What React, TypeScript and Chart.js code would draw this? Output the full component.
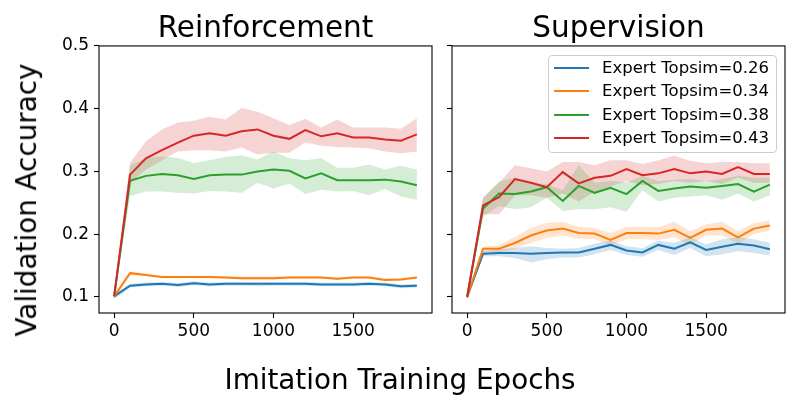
import { useEffect, useRef } from 'react'
import { Chart, registerables } from 'chart.js'

Chart.register(...registerables)

const epochs = [0, 100, 200, 300, 400, 500, 600, 700, 800, 900, 1000, 1100, 1200, 1300, 1400, 1500, 1600, 1700, 1800, 1900]
const seriesLabels = ['Expert Topsim=0.26', 'Expert Topsim=0.34', 'Expert Topsim=0.38', 'Expert Topsim=0.43']
const seriesColors = ['#1f77b4', '#ff7f0e', '#2ca02c', '#d62728']
const bandColors = ['rgba(31,119,180,0.2)', 'rgba(255,127,14,0.2)', 'rgba(44,160,44,0.2)', 'rgba(214,39,40,0.2)']
const yTicks = [0.1, 0.2, 0.3, 0.4, 0.5]
const xTicks = [0, 500, 1000, 1500]

// Reinforcement panel
const rlBlue = [0.101, 0.118, 0.120, 0.121, 0.119, 0.122, 0.120, 0.121, 0.121, 0.121, 0.121, 0.121, 0.121, 0.120, 0.120, 0.120, 0.121, 0.120, 0.117, 0.118]
const rlBlueLo = [0.096, 0.115, 0.117, 0.118, 0.116, 0.119, 0.117, 0.118, 0.118, 0.117, 0.118, 0.118, 0.118, 0.117, 0.117, 0.117, 0.118, 0.117, 0.114, 0.115]
const rlBlueHi = [0.105, 0.121, 0.123, 0.124, 0.122, 0.125, 0.123, 0.124, 0.124, 0.124, 0.124, 0.124, 0.124, 0.123, 0.123, 0.123, 0.124, 0.123, 0.120, 0.121]
const rlOrange = [0.101, 0.138, 0.135, 0.132, 0.132, 0.132, 0.132, 0.131, 0.130, 0.130, 0.130, 0.131, 0.131, 0.131, 0.129, 0.131, 0.131, 0.127, 0.128, 0.131]
const rlOrangeLo = [0.097, 0.135, 0.133, 0.130, 0.130, 0.130, 0.130, 0.129, 0.128, 0.128, 0.128, 0.129, 0.129, 0.129, 0.127, 0.129, 0.129, 0.125, 0.126, 0.129]
const rlOrangeHi = [0.104, 0.141, 0.137, 0.134, 0.134, 0.134, 0.134, 0.133, 0.133, 0.133, 0.133, 0.133, 0.133, 0.133, 0.131, 0.133, 0.133, 0.130, 0.130, 0.133]
const rlGreen = [0.101, 0.285, 0.293, 0.296, 0.294, 0.288, 0.294, 0.295, 0.295, 0.300, 0.303, 0.301, 0.289, 0.297, 0.286, 0.286, 0.286, 0.287, 0.284, 0.278]
const rlGreenLo = [0.097, 0.261, 0.268, 0.268, 0.266, 0.265, 0.269, 0.268, 0.266, 0.282, 0.273, 0.281, 0.264, 0.271, 0.268, 0.269, 0.262, 0.272, 0.260, 0.255]
const rlGreenHi = [0.104, 0.310, 0.322, 0.324, 0.322, 0.313, 0.318, 0.323, 0.326, 0.319, 0.332, 0.321, 0.318, 0.321, 0.306, 0.306, 0.311, 0.303, 0.309, 0.303]
const rlRed = [0.101, 0.295, 0.321, 0.334, 0.346, 0.357, 0.361, 0.357, 0.364, 0.367, 0.357, 0.352, 0.366, 0.356, 0.361, 0.354, 0.354, 0.351, 0.349, 0.359]
const rlRedLo = [0.097, 0.282, 0.303, 0.318, 0.332, 0.334, 0.334, 0.332, 0.338, 0.327, 0.330, 0.330, 0.346, 0.341, 0.339, 0.338, 0.337, 0.332, 0.329, 0.332]
const rlRedHi = [0.104, 0.314, 0.348, 0.367, 0.378, 0.381, 0.387, 0.383, 0.401, 0.395, 0.385, 0.374, 0.384, 0.370, 0.383, 0.370, 0.370, 0.370, 0.368, 0.385]

// Supervision panel
const svBlue = [0.100, 0.169, 0.170, 0.170, 0.169, 0.170, 0.171, 0.171, 0.177, 0.183, 0.174, 0.171, 0.183, 0.177, 0.187, 0.175, 0.180, 0.185, 0.182, 0.176]
const svBlueLo = [0.096, 0.165, 0.165, 0.162, 0.155, 0.160, 0.163, 0.163, 0.168, 0.175, 0.167, 0.164, 0.175, 0.167, 0.178, 0.165, 0.168, 0.173, 0.170, 0.166]
const svBlueHi = [0.104, 0.173, 0.176, 0.178, 0.181, 0.178, 0.177, 0.178, 0.185, 0.190, 0.181, 0.178, 0.190, 0.186, 0.195, 0.184, 0.192, 0.195, 0.192, 0.186]
const svOrange = [0.100, 0.177, 0.177, 0.186, 0.198, 0.206, 0.209, 0.202, 0.201, 0.191, 0.202, 0.202, 0.201, 0.207, 0.194, 0.207, 0.209, 0.195, 0.209, 0.214]
const svOrangeLo = [0.096, 0.172, 0.171, 0.177, 0.186, 0.194, 0.198, 0.193, 0.192, 0.182, 0.192, 0.192, 0.191, 0.195, 0.183, 0.198, 0.198, 0.185, 0.200, 0.206]
const svOrangeHi = [0.104, 0.180, 0.183, 0.196, 0.210, 0.218, 0.220, 0.212, 0.210, 0.202, 0.212, 0.212, 0.211, 0.220, 0.205, 0.216, 0.220, 0.205, 0.218, 0.222]
const svGreen = [0.100, 0.241, 0.265, 0.264, 0.268, 0.275, 0.253, 0.277, 0.266, 0.274, 0.264, 0.285, 0.269, 0.273, 0.276, 0.274, 0.277, 0.280, 0.268, 0.279]
const svGreenLo = [0.096, 0.228, 0.245, 0.240, 0.243, 0.258, 0.237, 0.240, 0.240, 0.243, 0.236, 0.270, 0.252, 0.258, 0.260, 0.262, 0.255, 0.265, 0.252, 0.262]
const svGreenHi = [0.104, 0.258, 0.284, 0.290, 0.282, 0.280, 0.270, 0.310, 0.282, 0.285, 0.283, 0.293, 0.285, 0.287, 0.288, 0.285, 0.288, 0.293, 0.290, 0.290]
const svRed = [0.100, 0.246, 0.259, 0.288, 0.282, 0.275, 0.299, 0.281, 0.290, 0.293, 0.304, 0.294, 0.297, 0.304, 0.297, 0.300, 0.296, 0.307, 0.296, 0.296]
const svRedLo = [0.096, 0.232, 0.232, 0.262, 0.262, 0.258, 0.265, 0.252, 0.268, 0.276, 0.285, 0.278, 0.280, 0.285, 0.282, 0.285, 0.280, 0.290, 0.282, 0.282]
const svRedHi = [0.104, 0.258, 0.282, 0.310, 0.305, 0.300, 0.315, 0.315, 0.310, 0.318, 0.318, 0.312, 0.318, 0.325, 0.317, 0.313, 0.315, 0.315, 0.313, 0.313]

const FONT = '"DejaVu Sans", sans-serif'

type Band = { mean: number[]; lo: number[]; hi: number[] }

const rlSeries: Band[] = [
  { mean: rlBlue, lo: rlBlueLo, hi: rlBlueHi },
  { mean: rlOrange, lo: rlOrangeLo, hi: rlOrangeHi },
  { mean: rlGreen, lo: rlGreenLo, hi: rlGreenHi },
  { mean: rlRed, lo: rlRedLo, hi: rlRedHi }
]
const svSeries: Band[] = [
  { mean: svBlue, lo: svBlueLo, hi: svBlueHi },
  { mean: svOrange, lo: svOrangeLo, hi: svOrangeHi },
  { mean: svGreen, lo: svGreenLo, hi: svGreenHi },
  { mean: svRed, lo: svRedLo, hi: svRedHi }
]

const toPoints = (vals: number[]) => epochs.map((x, i) => ({ x, y: vals[i] }))

// matplotlib draws all four spines
const framePlugin = {
  id: 'frame',
  afterDraw(chart: Chart) {
    const { ctx, chartArea } = chart
    ctx.save()
    ctx.strokeStyle = '#000'
    ctx.lineWidth = 1.1
    ctx.strokeRect(chartArea.left, chartArea.top, chartArea.right - chartArea.left, chartArea.bottom - chartArea.top)
    ctx.restore()
  }
}

interface PanelProps {
  title: string
  series: Band[]
  width: number
  yWidth: number
  padRight: number
  showYLabels: boolean
}

function Panel({ title, series, width, yWidth, padRight, showYLabels }: PanelProps) {
  const chartRef = useRef<HTMLCanvasElement>(null)
  const chartInstance = useRef<Chart | null>(null)

  useEffect(() => {
    if (!chartRef.current) return

    const datasets: any[] = []
    // lines first so they sit on top (lower order = drawn last)
    series.forEach((s, i) => {
      datasets.push({
        label: seriesLabels[i],
        data: toPoints(s.mean),
        borderColor: seriesColors[i],
        borderWidth: 2,
        pointRadius: 0,
        tension: 0,
        fill: false,
        order: 3 - i
      })
    })
    series.forEach((s, i) => {
      datasets.push({
        label: seriesLabels[i] + ' hi',
        data: toPoints(s.hi),
        borderWidth: 0,
        borderColor: 'transparent',
        backgroundColor: bandColors[i],
        pointRadius: 0,
        fill: datasets.length + 1,
        order: 10
      })
      datasets.push({
        label: seriesLabels[i] + ' lo',
        data: toPoints(s.lo),
        borderWidth: 0,
        borderColor: 'transparent',
        pointRadius: 0,
        fill: false,
        order: 10
      })
    })

    const config: any = {
      type: 'line',
      data: { datasets },
      plugins: [framePlugin],
      options: {
        responsive: false,
        animation: false,
        layout: { padding: { left: 0, right: padRight, top: 0, bottom: 0 } },
        plugins: {
          legend: { display: false },
          tooltip: { enabled: false },
          title: {
            display: true,
            fullSize: false,
            text: title,
            color: '#000',
            font: { family: FONT, size: 29.5, weight: 'normal', lineHeight: 1.1 },
            padding: { top: 13.5, bottom: 0 }
          }
        },
        scales: {
          x: {
            type: 'linear',
            min: -95,
            max: 1995,
            afterFit: (scale: any) => { scale.height = 87 },
            afterBuildTicks: (scale: any) => { scale.ticks = xTicks.map(v => ({ value: v })) },
            grid: { display: true, drawOnChartArea: false, drawTicks: true, tickLength: 5, tickWidth: 1.1, tickColor: '#000', color: '#000' },
            border: { display: false },
            ticks: { color: '#000', padding: 3, maxRotation: 0, font: { family: FONT, size: 17 }, callback: (v: number) => String(v) }
          },
          y: {
            type: 'linear',
            min: 0.0745,
            max: 0.5,
            afterFit: (scale: any) => { scale.width = yWidth },
            afterBuildTicks: (scale: any) => { scale.ticks = yTicks.map(v => ({ value: v })) },
            grid: { display: true, drawOnChartArea: false, drawTicks: true, tickLength: 5, tickWidth: 1.1, tickColor: '#000', color: '#000' },
            border: { display: false },
            ticks: { display: showYLabels, color: '#000', padding: 5, font: { family: FONT, size: 17 }, callback: (v: number) => v.toFixed(1) }
          }
        }
      }
    }

    if (chartInstance.current) {
      chartInstance.current.destroy()
    }

    chartInstance.current = new Chart(chartRef.current, config)

    return () => {
      if (chartInstance.current) {
        chartInstance.current.destroy()
        chartInstance.current = null
      }
    }
  }, [title, series, width, yWidth, padRight, showYLabels])

  return <canvas ref={chartRef} width={width} height={400} style={{ width, height: 400, display: 'block' }} />
}

function Legend() {
  return (
    <div style={{
      position: 'absolute', left: 548, top: 55, width: 229, height: 98, boxSizing: 'border-box',
      border: '1px solid #cccccc', borderRadius: 4, background: 'rgba(255,255,255,0.8)'
    }}>
      {seriesLabels.map((label, i) => (
        <div key={label} style={{ position: 'absolute', left: 0, top: 2 + i * 23.3, height: 20, width: '100%' }}>
          <div style={{ position: 'absolute', left: 5, top: 9, width: 35, height: 2, background: seriesColors[i] }} />
          <div style={{ position: 'absolute', left: 53, top: 0, lineHeight: '20px', fontFamily: FONT, fontSize: 16.5, color: '#000', whiteSpace: 'nowrap' }}>{label}</div>
        </div>
      ))}
    </div>
  )
}

export default function App() {
  return (
    <div style={{ position: 'fixed', left: 0, top: 0, width: 800, height: 400, background: '#fff', overflow: 'hidden' }}>
      <div style={{ position: 'absolute', left: 0, top: 0 }}>
        <Panel title="Reinforcement" series={rlSeries} width={440} yWidth={99} padRight={8} showYLabels={true} />
      </div>
      <div style={{ position: 'absolute', left: 440, top: 0 }}>
        <Panel title="Supervision" series={svSeries} width={360} yWidth={12} padRight={15} showYLabels={false} />
      </div>
      <Legend />
      <div style={{
        position: 'absolute', left: 26.5, top: 200, transform: 'translate(-50%, -50%) rotate(-90deg)',
        fontFamily: FONT, fontSize: 27.8, lineHeight: 1, whiteSpace: 'nowrap', color: '#000'
      }}>Validation Accuracy</div>
      <div style={{
        position: 'absolute', left: 400, top: 365.5, transform: 'translateX(-50%)',
        fontFamily: FONT, fontSize: 27.8, lineHeight: 1, whiteSpace: 'nowrap', color: '#000'
      }}>Imitation Training Epochs</div>
    </div>
  )
}
